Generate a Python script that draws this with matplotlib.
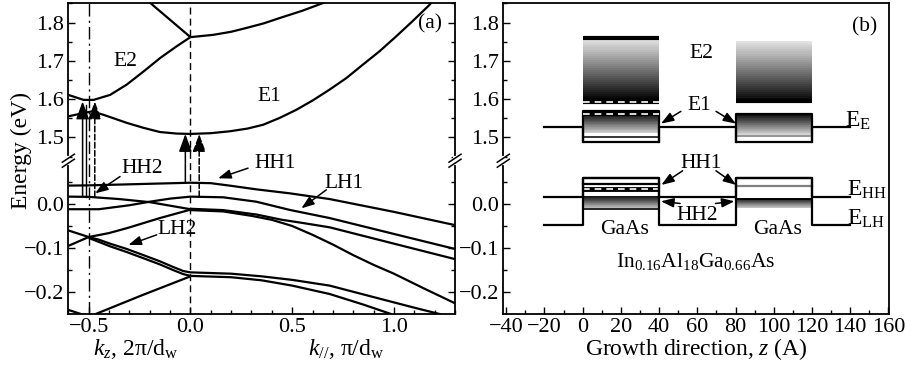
import numpy as np
import matplotlib
matplotlib.use('Agg')
import matplotlib.pyplot as plt
from matplotlib.ticker import FixedLocator, FuncFormatter

plt.rcParams['font.family'] = ['Liberation Serif', 'DejaVu Serif']
plt.rcParams['mathtext.fontset'] = 'custom'
plt.rcParams['mathtext.rm'] = 'Liberation Serif'
plt.rcParams['mathtext.it'] = 'Liberation Serif:italic'

# ---------------- data : panel (a) band structure ----------------
e2_x = [-0.6, -0.525, -0.476, -0.395, -0.313, -0.231, -0.15, -0.068, 0.0]
e2_e = [1.611, 1.598, 1.598, 1.611, 1.638, 1.672, 1.707, 1.738, 1.762]
e1_x = [-0.6, -0.54, -0.484, -0.427, -0.313, -0.231, -0.15, -0.068, 0.0, 0.1, 0.194, 0.28, 0.357,
        0.439, 0.52, 0.602, 0.684, 0.766, 0.847, 0.929, 1.011, 1.092, 1.174, 1.19]
e1_e = [1.555, 1.562, 1.568, 1.559, 1.538, 1.525, 1.514, 1.510, 1.509, 1.511, 1.516, 1.523, 1.533,
        1.551, 1.572, 1.597, 1.625, 1.655, 1.690, 1.725, 1.764, 1.804, 1.846, 1.856]
e3_x = [0.0, 0.112, 0.2, 0.275, 0.36, 0.439, 0.55, 0.651, 0.67]
e3_e = [1.762, 1.768, 1.776, 1.786, 1.798, 1.812, 1.831, 1.851, 1.856]
e4_x = [-0.21, 0.0]
e4_e = [1.857, 1.762]

hh1_x = [-0.6, -0.5, -0.25, 0.0, 0.1, 0.2, 0.324, 0.488, 0.684, 1.0, 1.3]
hh1_e = [0.0415, 0.042, 0.045, 0.048, 0.047, 0.041, 0.033, 0.024, 0.011, -0.018, -0.048]
la_x = [-0.6, -0.5, -0.35, -0.2, -0.1, 0.0]
la_e = [0.0165, 0.016, 0.011, 0.004, -0.004, -0.012]
lb_x = [-0.6, -0.45, -0.3, -0.2, -0.1, 0.0, 0.161, 0.324, 0.488, 0.684, 1.0, 1.3]
lb_e = [-0.012, -0.012, -0.003, 0.005, 0.012, 0.0165, 0.015, 0.005, -0.0136, -0.032, -0.068, -0.102]
c1_x = [0.0, 0.161, 0.324, 0.45, 0.55, 0.684, 1.0, 1.3]
c1_e = [-0.011, -0.014, -0.024, -0.036, -0.043, -0.053, -0.09, -0.125]
c2_x = [0.0, 0.161, 0.3, 0.4, 0.5, 0.6, 0.7, 0.8, 0.9, 1.0, 1.15, 1.3]
c2_e = [-0.014, -0.017, -0.027, -0.036, -0.05, -0.07, -0.092, -0.116, -0.138, -0.158, -0.192, -0.225]
cl_x = [-0.5, -0.4, -0.313, -0.15, 0.0]
cl_e = [-0.075, -0.066, -0.055, -0.032, -0.013]
d1_x = [-0.5, -0.45, -0.395, -0.313, -0.231, -0.15, -0.084, -0.035, 0.0, 0.2, 0.35, 0.5, 0.684, 0.9, 1.1, 1.23]
d1_e = [-0.075, -0.081, -0.090, -0.102, -0.116, -0.130, -0.143, -0.152, -0.155, -0.158, -0.164, -0.172, -0.185, -0.211, -0.235, -0.25]
d2_x = [-0.5, -0.45, -0.395, -0.313, -0.231, -0.15, -0.084, -0.035, 0.0, 0.2, 0.35, 0.5, 0.684, 0.85, 0.99]
d2_e = [-0.077, -0.086, -0.096, -0.109, -0.123, -0.137, -0.150, -0.159, -0.163, -0.166, -0.173, -0.185, -0.204, -0.228, -0.25]
lu_x = [-0.6, -0.5]
lu_e = [-0.060, -0.075]
ll_x = [-0.6, -0.5]
ll_e = [-0.095, -0.075]
bt_x = [0.0, -0.239, -0.48]
bt_e = [-0.164, -0.207, -0.252]
bl_x = [-0.6, -0.52]
bl_e = [-0.240, -0.252]
a_curves = [(e2_x, e2_e), (e1_x, e1_e), (e3_x, e3_e), (e4_x, e4_e), (hh1_x, hh1_e),
            (la_x, la_e), (lb_x, lb_e), (c1_x, c1_e), (c2_x, c2_e), (cl_x, cl_e),
            (d1_x, d1_e), (d2_x, d2_e), (lu_x, lu_e), (ll_x, ll_e), (bt_x, bt_e), (bl_x, bl_e)]

# transition arrows: x, from E, to E, dashed?
tr_x = [-0.53, -0.47, -0.025, 0.043]
tr_from = [0.0165, 0.0165, 0.048, 0.0165]
tr_to = [1.594, 1.594, 1.509, 1.509]
tr_dashed = [False, True, False, True]

# ---------------- data : panel (b) potential profile ----------------
z_prof = [-20, 0, 0, 40, 40, 80, 80, 120, 120, 140]
cb_e = [1.527, 1.527, 1.487, 1.487, 1.527, 1.527, 1.487, 1.487, 1.527, 1.527]
hh_e = [0.0165, 0.0165, 0.058, 0.058, 0.0165, 0.0165, 0.058, 0.058, 0.0165, 0.0165]
lh_e = [-0.047, -0.047, 0.058, 0.058, -0.047, -0.047, 0.058, 0.058, -0.047, -0.047]
box_left_top = 1.568
box_right_top = 1.562
# gradient blocks: z0, z1, E top, E bottom, grey at top, grey at bottom
grad_blocks = [
    (0, 40, 1.756, 1.598, 0.90, 0.0),
    (80, 120, 1.751, 1.592, 0.90, 0.0),
    (0, 40, 1.560, 1.512, 0.05, 0.82),
    (80, 120, 1.560, 1.507, 0.05, 0.85),
    (0, 40, 0.018, -0.010, 0.05, 0.78),
    (80, 120, 0.012, -0.010, 0.10, 0.82),
]

# axis break
B0, B1 = 0.098, 1.44
K_LO, K_UP = 442.0, 383.0
EPS = 0.3


def fwd(e):
    e = np.asarray(e, dtype=float)
    return np.where(e <= B0, (e - B0) * K_LO,
                    np.where(e >= B1, EPS + (e - B1) * K_UP, (e - B0) / (B1 - B0) * EPS))


def inv(v):
    v = np.asarray(v, dtype=float)
    return np.where(v <= 0, B0 + v / K_LO,
                    np.where(v >= EPS, B1 + (v - EPS) / K_UP, B0 + v / EPS * (B1 - B0)))


def fmt(v, p):
    s = f'{v:.1f}'
    if s == '-0.0':
        s = '0.0'
    return s.replace('-', '\u2212')


FS = 16      # tick labels
FA = 15.5    # annotations
FL = 17      # axis labels
fig = plt.figure(figsize=(9.1, 3.7), dpi=100)
ax1 = fig.add_axes([0.0751, 0.1505, 0.4249, 0.8422])
ax2 = fig.add_axes([0.5531, 0.1505, 0.4238, 0.8422])

for ax in (ax1, ax2):
    ax.set_yscale('function', functions=(fwd, inv))
    ax.set_ylim(-0.25, 1.852)
    ax.yaxis.set_major_locator(FixedLocator([-0.2, -0.1, 0.0, 1.5, 1.6, 1.7, 1.8]))
    ax.yaxis.set_minor_locator(FixedLocator([-0.15, -0.05, 0.05, 1.45, 1.55, 1.65, 1.75, 1.85]))
    ax.yaxis.set_major_formatter(FuncFormatter(fmt))
    ax.tick_params(which='both', direction='in', labelsize=FS, width=1.0, pad=3)
    ax.tick_params(which='major', length=5)
    ax.tick_params(which='minor', length=3)
    for s in ax.spines.values():
        s.set_linewidth(1.3)

# ---- panel (a)
ax1.set_xlim(-0.6, 1.3)
ax1.xaxis.set_major_locator(FixedLocator([-0.5, 0.0, 0.5, 1.0]))
ax1.xaxis.set_minor_locator(FixedLocator(np.arange(-0.6, 1.31, 0.1)))
ax1.xaxis.set_major_formatter(FuncFormatter(fmt))
ax1.tick_params(axis='y', which='both', right=True)

for xs, es in a_curves:
    ax1.plot(xs, es, color='k', lw=1.6, solid_capstyle='butt', solid_joinstyle='round', zorder=3)

ax1.axvline(-0.5, color='k', lw=1.0, ls=(0, (9, 3, 1.5, 3)), zorder=2)
ax1.axvline(0.0, color='k', lw=1.0, ls=(0, (5, 3)), zorder=2)
ax1.plot([-0.514, -0.514], [0.0165, 1.585], color='k', lw=1.0, zorder=2)

for x, e0, e1, d in zip(tr_x, tr_from, tr_to, tr_dashed):
    ax1.annotate('', xy=(x, e1), xytext=(x, e0),
                 arrowprops=dict(arrowstyle='-|>,head_length=0.6,head_width=0.22',
                                 mutation_scale=18, lw=1.1, color='k',
                                 linestyle='--' if d else '-', shrinkA=0, shrinkB=0),
                 zorder=4)

small = dict(arrowstyle='-|>,head_length=0.55,head_width=0.2', mutation_scale=14,
             lw=1.1, color='k', shrinkA=0, shrinkB=0)
ax1.text(-0.321, 1.698, 'E2', fontsize=FA, ha='center', va='center')
ax1.text(0.39, 1.607, 'E1', fontsize=FA, ha='center', va='center')
ax1.text(1.176, 1.797, '(a)', fontsize=FA, ha='center', va='center')
ax1.text(-0.239, 0.081, 'HH2', fontsize=FA, ha='center', va='center')
ax1.annotate('', xy=(-0.468, 0.024), xytext=(-0.346, 0.062), arrowprops=small)
ax1.text(0.414, 0.092, 'HH1', fontsize=FA, ha='center', va='center')
ax1.annotate('', xy=(0.136, 0.058), xytext=(0.283, 0.081), arrowprops=small)
ax1.text(0.757, 0.047, 'LH1', fontsize=FA, ha='center', va='center')
ax1.annotate('', xy=(0.545, -0.010), xytext=(0.668, 0.032), arrowprops=small)
ax1.text(-0.068, -0.059, 'LH2', fontsize=FA, ha='center', va='center')
ax1.annotate('', xy=(-0.305, -0.093), xytext=(-0.166, -0.070), arrowprops=small)

ax1.set_ylabel('Energy (eV)', fontsize=FL)
ax1.yaxis.set_label_coords(-0.093, 0.527)
ax1.text(-0.27, -0.112, '$k_z$, 2π/d$_\\mathrm{w}$', transform=ax1.get_xaxis_transform(),
         fontsize=FL, ha='center', va='center')
ax1.text(0.766, -0.112, '$k_{//}$, π/d$_\\mathrm{w}$', transform=ax1.get_xaxis_transform(),
         fontsize=FL, ha='center', va='center')

# ---- panel (b)
ax2.set_xlim(-41.5, 160.3)
ax2.xaxis.set_major_locator(FixedLocator(np.arange(-40, 161, 20)))
ax2.xaxis.set_minor_locator(FixedLocator(np.arange(-40, 161, 10)))
ax2.xaxis.set_major_formatter(FuncFormatter(lambda v, p: f'{v:.0f}'.replace('-', '\u2212')))

for z0, z1, et, eb, gt, gb in grad_blocks:
    n = 30
    edges = np.linspace(et, eb, n + 1)
    for i in range(n):
        g = gt + (gb - gt) * (i + 0.5) / n
        ax2.fill_between([z0, z1], edges[i + 1], edges[i], color=str(round(g, 3)), lw=0, zorder=1)

# E2 left: black top bar, black bottom band with white dashes
ax2.plot([0, 40], [1.759, 1.759], color='k', lw=3, zorder=3, solid_capstyle='butt')
ax2.plot([0, 40], [1.592, 1.592], color='k', lw=3, zorder=3, solid_capstyle='butt')
ax2.plot([0, 40], [1.592, 1.592], color='w', lw=1.2, ls=(0, (4, 3)), zorder=3)
ax2.plot([80, 120], [1.594, 1.594], color='k', lw=3, zorder=3, solid_capstyle='butt')
# E1 boxes
ax2.plot([0, 0, 40, 40], [1.487, box_left_top, box_left_top, 1.487], color='k', lw=1.6, zorder=3)
ax2.plot([80, 80, 120, 120], [1.487, box_right_top, box_right_top, 1.487], color='k', lw=1.6, zorder=3)
ax2.plot([0, 40], [1.562, 1.562], color='k', lw=3, zorder=3, solid_capstyle='butt')
ax2.plot([0, 40], [1.562, 1.562], color='w', lw=1.2, ls=(0, (4, 3)), zorder=3)
ax2.plot([0, 40], [1.500, 1.500], color='k', lw=1.1, zorder=3)
ax2.plot([80, 120], [1.504, 1.504], color='0.55', lw=1.3, zorder=3)
# valence levels
ax2.plot([0, 40], [0.045, 0.045], color='k', lw=1.6, zorder=3)
ax2.plot([0, 40], [0.033, 0.033], color='k', lw=3.5, zorder=3, solid_capstyle='butt')
ax2.plot([0, 40], [0.033, 0.033], color='w', lw=1.2, ls=(0, (4, 3)), zorder=3)
ax2.plot([0, 40], [-0.011, -0.011], color='k', lw=1.2, zorder=3)
ax2.plot([80, 120], [0.041, 0.041], color='0.5', lw=1.6, zorder=3)
ax2.plot([80, 120], [0.012, 0.012], color='k', lw=1.4, zorder=3)
# band profile
ax2.plot(z_prof, cb_e, color='k', lw=1.6, zorder=4)
ax2.plot(z_prof, hh_e, color='k', lw=1.6, zorder=4)
ax2.plot(z_prof, lh_e, color='k', lw=1.6, zorder=4)

ax2.text(147.7, 1.79, '(b)', fontsize=FA, ha='center', va='center')
ax2.text(62, 1.72, 'E2', fontsize=FA, ha='center', va='center')
ax2.text(61, 1.583, 'E1', fontsize=FA, ha='center', va='center')
ax2.annotate('', xy=(41, 1.536), xytext=(51.4, 1.568), arrowprops=small)
ax2.annotate('', xy=(80.3, 1.536), xytext=(69.8, 1.568), arrowprops=small)
ax2.text(137.5, 1.528, 'E$_\\mathrm{E}$', fontsize=FL, ha='left', va='baseline')
ax2.text(62, 0.092, 'HH1', fontsize=FA, ha='center', va='center')
ax2.annotate('', xy=(41.2, 0.043), xytext=(52.3, 0.075), arrowprops=small)
ax2.annotate('', xy=(80.3, 0.043), xytext=(69.8, 0.075), arrowprops=small)
ax2.text(60.2, -0.027, 'HH2', fontsize=FA, ha='center', va='center')
ax2.annotate('', xy=(41, 0.006), xytext=(51, 0.001), arrowprops=small)
ax2.annotate('', xy=(79.5, 0.006), xytext=(69.5, 0.001), arrowprops=small)
ax2.text(138.5, 0.019, 'E$_\\mathrm{HH}$', fontsize=FL, ha='left', va='baseline')
ax2.text(138.5, -0.046, 'E$_\\mathrm{LH}$', fontsize=FL, ha='left', va='baseline')
ax2.text(21.7, -0.059, 'GaAs', fontsize=FA, ha='center', va='center')
ax2.text(102.2, -0.059, 'GaAs', fontsize=FA, ha='center', va='center')
ax2.text(59.3, -0.13, 'In$_{0.16}$Al$_{18}$Ga$_{0.66}$As', fontsize=FA, ha='center', va='center')
ax2.text(0.5, -0.112, 'Growth direction, $z$ (A)', transform=ax2.transAxes,
         fontsize=FL, ha='center', va='center')

# break marks
ybreak = 1 - (160.7 - 2.7) / 311.6


def brk(ax, xpos):
    bb = ax.get_position()
    wpx = bb.width * 910
    hpx = bb.height * 370
    dx, dy, sep = 6 / wpx, 4 / hpx, 5 / hpx
    ax.plot([xpos, xpos], [ybreak - sep / 2, ybreak + sep / 2], color='w', lw=3,
            transform=ax.transAxes, clip_on=False, zorder=10)
    for off in (-sep / 2, sep / 2):
        ax.plot([xpos - dx, xpos + dx], [ybreak + off - dy, ybreak + off + dy], color='k', lw=1.1,
                transform=ax.transAxes, clip_on=False, zorder=11)


brk(ax1, 0.0)
brk(ax1, 1.0)
brk(ax2, 0.0)

fig.savefig('out.png', dpi=100)
